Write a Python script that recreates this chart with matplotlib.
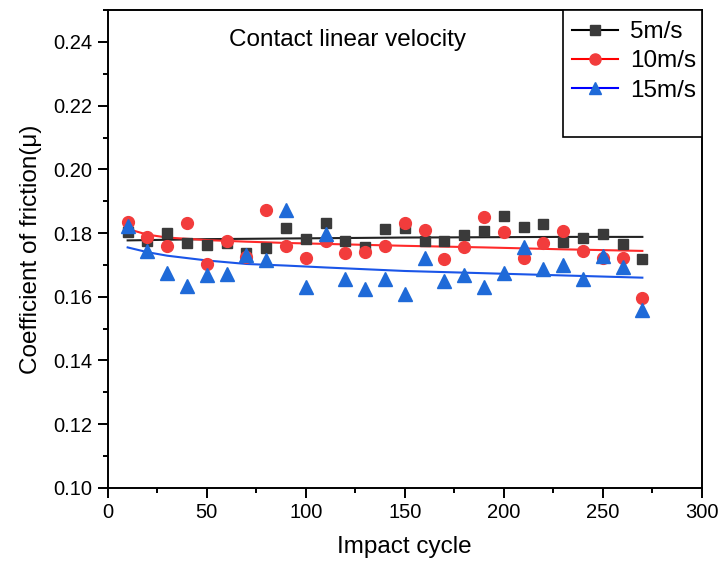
import numpy as np
import matplotlib
matplotlib.use("Agg")
import matplotlib.pyplot as plt
from matplotlib.ticker import MultipleLocator, FormatStrFormatter
from matplotlib.patches import Rectangle
from matplotlib.lines import Line2D

plt.rcParams['font.family'] = ['Liberation Sans', 'DejaVu Sans']

# impact cycles
cycles = [10, 20, 30, 40, 50, 60, 70, 80, 90, 100, 110, 120, 130, 140,
          150, 160, 170, 180, 190, 200, 210, 220, 230, 240, 250, 260, 270]

# coefficient of friction
mu_5 = [0.1804, 0.1775, 0.1799, 0.1770, 0.1762, 0.1768, 0.1737, 0.1753, 0.1816,
        0.1782, 0.1832, 0.1775, 0.1755, 0.1813, 0.1816, 0.1775, 0.1775, 0.1795,
        0.1805, 0.1854, 0.1819, 0.1830, 0.1773, 0.1786, 0.1797, 0.1766, 0.1720]
mu_10 = [0.1835, 0.1788, 0.1758, 0.1833, 0.1703, 0.1775, 0.1725, 0.1874, 0.1758,
         0.1723, 0.1775, 0.1736, 0.1742, 0.1760, 0.1832, 0.1810, 0.1720, 0.1755,
         0.1849, 0.1804, 0.1722, 0.1769, 0.1808, 0.1745, 0.1722, 0.1723, 0.1597]
mu_15 = [0.1821, 0.1744, 0.1676, 0.1634, 0.1667, 0.1673, 0.1731, 0.1714, 0.1874,
         0.1630, 0.1797, 0.1656, 0.1623, 0.1657, 0.1610, 0.1722, 0.1651, 0.1667,
         0.1630, 0.1676, 0.1755, 0.1687, 0.1701, 0.1656, 0.1729, 0.1692, 0.1560]

# fitted trend lines
fit_x = [10, 20, 30, 50, 70, 90, 110, 150, 190, 230, 270]
fit_5 = [0.1777, 0.1778, 0.1779, 0.1781, 0.1782, 0.1783, 0.1784, 0.1786, 0.1787, 0.1788, 0.1788]
fit_10 = [0.1813, 0.1795, 0.1786, 0.1778, 0.1773, 0.1769, 0.1766, 0.1760, 0.1755, 0.1749, 0.1744]
fit_15 = [0.1755, 0.1740, 0.1729, 0.1714, 0.1703, 0.1698, 0.1692, 0.1681, 0.1674, 0.1667, 0.1660]

labels = ['5m/s', '10m/s', '15m/s']

fig = plt.figure(figsize=(7.19, 5.64), dpi=100)
ax = fig.add_axes([0.150, 0.135, 0.826, 0.847])

c_blk, c_red, c_blu = '#3a3a3a', '#f23c3c', '#1f6ad8'
l_blk, l_red, l_blu = '#222222', '#ff2a2a', '#1a55e8'

ax.plot(fit_x, fit_5, color=l_blk, lw=1.5)
ax.plot(fit_x, fit_10, color=l_red, lw=1.5)
ax.plot(fit_x, fit_15, color=l_blu, lw=1.5)

ax.plot(cycles, mu_5, 's', color=c_blk, ms=7.5, ls='none')
ax.plot(cycles, mu_10, 'o', color=c_red, ms=8.5, ls='none')
ax.plot(cycles, mu_15, '^', color=c_blu, ms=9.5, ls='none')

ax.set_xlim(0, 300)
ax.set_ylim(0.10, 0.25)
ax.xaxis.set_major_locator(MultipleLocator(50))
ax.xaxis.set_minor_locator(MultipleLocator(25))
ax.yaxis.set_major_locator(MultipleLocator(0.02))
ax.yaxis.set_minor_locator(MultipleLocator(0.01))
ax.yaxis.set_major_formatter(FormatStrFormatter('%.2f'))
ax.tick_params(which='major', length=7, width=1.4, labelsize=14.5, pad=4)
ax.tick_params(which='minor', length=3.6, width=1.4)
for s in ax.spines.values():
    s.set_linewidth(1.4)

ax.set_xlabel('Impact cycle', fontsize=17.5, labelpad=10)
ax.set_ylabel('Coefficient of friction(μ)', fontsize=17.5, labelpad=8)

ax.text(121, 0.2405, 'Contact linear velocity', fontsize=17.5, ha='center', va='center')

# legend box
ax.add_patch(Rectangle((0.766, 0.734), 0.234, 0.266, transform=ax.transAxes,
                       fill=True, facecolor='white', edgecolor='black', lw=1.2, zorder=4))
handles = [Line2D([], [], color='black', marker='s', mfc=c_blk, mec=c_blk, ms=7),
           Line2D([], [], color='red', marker='o', mfc=c_red, mec=c_red, ms=8),
           Line2D([], [], color='blue', marker='^', mfc=c_blu, mec=c_blu, ms=9)]
leg = ax.legend(handles, labels, loc='upper left', bbox_to_anchor=(0.781, 0.977),
                frameon=False, fontsize=17.5, borderpad=0, handlelength=1.9,
                handletextpad=0.5, labelspacing=0.3, borderaxespad=0)
leg.set_zorder(5)

fig.savefig('out.png', dpi=100)
